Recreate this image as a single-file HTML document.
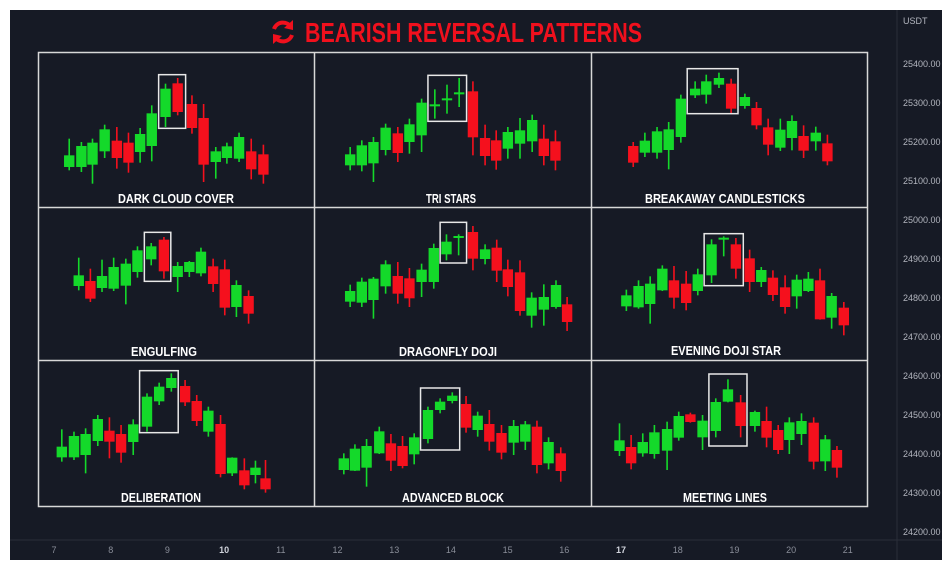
<!DOCTYPE html>
<html><head><meta charset="utf-8"><style>
html,body{margin:0;padding:0;background:#fff;}
svg{display:block}
</style></head><body>
<svg id="s" width="952" height="570" xmlns="http://www.w3.org/2000/svg" font-family="Liberation Sans, sans-serif">
<rect x="0" y="0" width="952" height="570" fill="#ffffff"/>
<rect x="10" y="10" width="932" height="550" fill="#161a25"/>
<line x1="897" y1="10" x2="897" y2="560" stroke="#2a2e39" stroke-width="1"/>
<line x1="10" y1="540" x2="942" y2="540" stroke="#2a2e39" stroke-width="1"/>
<text x="903" y="24" fill="#b2b5be" font-size="9">USDT</text>
<g id="g"></g>
<!-- title -->
<g transform="translate(283,32)" fill="none" stroke="#f0101d" stroke-width="4">
<path d="M-9,-3 A9.5,9.5 0 0 1 8,-5"/>
<path d="M9,3 A9.5,9.5 0 0 1 -8,5"/>
<polygon points="10,-12 10,-2 1,-4" fill="#f0101d" stroke="none"/>
<polygon points="-10,12 -10,2 -1,4" fill="#f0101d" stroke="none"/>
</g>
<text x="305" y="42" fill="#f0101d" font-size="28" font-weight="bold" textLength="337" lengthAdjust="spacingAndGlyphs">BEARISH REVERSAL PATTERNS</text>
<rect x="38.5" y="52.5" width="829" height="454" fill="none" stroke="#d8d8d8" stroke-width="1.5"/>
<line x1="314.5" y1="52" x2="314.5" y2="507" stroke="#d8d8d8" stroke-width="1.5"/>
<line x1="591.5" y1="52" x2="591.5" y2="507" stroke="#d8d8d8" stroke-width="1.5"/>
<line x1="38" y1="207.5" x2="868" y2="207.5" stroke="#d8d8d8" stroke-width="1.5"/>
<line x1="38" y1="360.5" x2="868" y2="360.5" stroke="#d8d8d8" stroke-width="1.5"/>
</svg>
<script>
var G=document.getElementById('g');var NS='http://www.w3.org/2000/svg';
function el(t,a,txt){var e=document.createElementNS(NS,t);for(var k in a)e.setAttribute(k,a[k]);if(txt)e.textContent=txt;G.appendChild(e);return e;}
var GR='#14d92a',RD='#f5101d';
// price labels
var prices=['25400.00','25300.00','25200.00','25100.00','25000.00','24900.00','24800.00','24700.00','24600.00','24500.00','24400.00','24300.00','24200.00'];
for(var i=0;i<prices.length;i++){el('text',{x:903,y:67+i*39,fill:'#b2b5be','font-size':9},prices[i]);}
for(var d=7;d<=21;d++){var x=54+(d-7)*56.7;el('text',{x:x,y:553,fill:(d==10||d==17)?'#d1d4dc':'#8a8e99','font-size':9,'text-anchor':'middle','font-weight':(d==10||d==17)?'bold':'normal'},''+d);}
var rows=[
{oy:52,c:[
[59,'G',260,310,345,355],[82,'G',270,282,345,360],[103,'G',260,272,338,395],[126,'G',218,232,298,318],[149,'R',225,266,318,350],[171,'R',242,272,332,362],[193,'G',228,246,300,332],[215,'G',160,184,282,328],[241,'G',95,110,195,225],[264,'R',78,94,180,190],[291,'R',130,156,228,245],[313,'R',156,198,338,390],[336,'G',285,298,330,380],[357,'G',272,283,318,335],[380,'G',242,255,320,330],[403,'R',260,298,352,382],[426,'R',278,307,368,395],
[590,'G',285,307,340,355],[612,'G',265,280,340,358],[634,'G',255,270,334,390],[657,'G',215,227,294,310],[680,'R',225,244,303,330],[702,'G',200,217,270,305],[725,'G',140,152,250,300],[750,'G',112,157,163,200],[773,'G',98,139,145,185],[796,'G',78,121,127,165],[822,'R',88,118,256,310],[845,'R',218,258,312,340],[866,'R',235,265,326,353],[888,'G',225,240,290,320],[911,'G',198,235,275,320],[934,'G',188,204,268,300],[956,'R',218,260,312,340],[978,'R',235,268,326,355],
[1125,'R',270,282,332,345],[1147,'G',242,266,302,315],[1170,'G',225,238,302,320],[1192,'G',210,232,294,352],[1215,'G',128,140,255,272],[1242,'G',88,110,130,138],[1263,'G',68,88,128,155],[1287,'G',62,78,98,108],[1310,'R',80,95,170,185],[1336,'G',125,135,162,170],[1358,'R',150,168,220,232],[1380,'R',200,226,278,310],[1403,'G',200,233,287,297],[1425,'G',190,207,258,295],[1447,'R',220,252,296,318],[1470,'G',224,242,268,296],[1492,'R',248,274,328,340]
],boxes:[[228,279,68,229],[737,810,70,208],[1227,1323,50,185]],
labels:[[176,198,'DARK CLOUD COVER',116],[451,198,'TRI STARS',50],[725,198,'BREAKAWAY CANDLESTICKS',160]]},
{oy:207,c:[
[77,'G',152,205,237,250],[99,'R',185,222,275,285],[121,'G',158,207,243,255],[143,'G',152,180,245,252],[166,'G',155,170,236,292],[188,'G',118,130,195,212],[214,'G',108,118,157,175],[238,'R',90,98,193,215],[264,'G',165,177,210,255],[286,'G',162,165,195,210],[308,'G',122,134,199,208],[331,'R',155,178,231,255],[353,'R',158,187,302,325],[375,'G',220,234,300,330],[398,'R',250,267,320,350],
[590,'G',233,252,284,300],[612,'G',212,224,287,300],[634,'G',210,215,279,335],[657,'G',160,172,238,260],[680,'R',165,207,260,290],[702,'R',183,214,274,300],[725,'G',170,188,225,270],[748,'G',110,123,225,245],[772,'G',82,104,142,160],[795,'G',82,87,92,145],[822,'R',57,75,155,190],[845,'G',112,127,156,172],[867,'R',98,122,191,225],[888,'R',158,187,240,268],[911,'R',160,196,312,326],[933,'G',256,272,326,362],[956,'G',232,270,308,356],[979,'G',220,234,300,305],[1000,'R',270,292,345,372],
[1112,'G',248,265,298,312],[1135,'G',220,237,301,305],[1157,'G',208,230,291,350],[1180,'G',175,185,250,252],[1202,'R',177,220,272,305],[1225,'R',192,230,288,310],[1247,'G',185,202,252,265],[1273,'G',97,112,205,228],[1296,'G',88,92,98,148],[1319,'R',93,112,185,215],[1345,'R',128,154,225,255],[1367,'G',180,189,225,240],[1389,'R',190,212,264,282],[1412,'R',205,241,300,320],[1434,'G',203,218,268,305],[1456,'G',195,215,252,255],[1478,'R',185,220,337,338],[1500,'G',258,267,332,365],[1523,'R',285,302,355,385]
],boxes:[[201,251,76,223],[760,810,46,168],[1259,1333,80,236]],
labels:[[164,351,'ENGULFING',66],[448,351,'DRAGONFLY DOJI',98],[726,350,'EVENING DOJI STAR',110]]},
{oy:360,c:[
[45,'G',208,260,292,305],[68,'G',215,228,292,300],[90,'G',205,222,285,340],[113,'G',165,177,243,258],[135,'R',172,212,245,295],[157,'R',195,222,278,308],[180,'G',178,193,246,285],[206,'G',100,110,200,215],[229,'G',68,80,124,135],[252,'G',40,54,84,95],[278,'R',60,78,127,138],[300,'R',105,123,183,198],[322,'G',140,152,215,230],[345,'R',165,192,342,352],[367,'G',292,293,340,348],[390,'R',295,331,376,388],[411,'G',302,323,345,370],[430,'R',300,355,388,398],
[578,'G',280,295,330,343],[599,'G',253,266,332,333],[621,'G',237,258,323,380],[645,'G',200,214,280,282],[667,'R',222,250,302,333],[689,'R',228,258,318,325],[711,'G',220,232,283,313],[737,'G',140,150,237,250],[760,'G',115,125,150,160],[783,'G',97,107,123,130],[809,'R',108,132,203,218],[831,'G',155,167,210,230],[853,'R',150,192,245,272],[876,'R',195,219,278,298],[899,'G',180,198,248,285],[921,'G',183,193,245,270],[943,'R',182,200,315,340],[965,'G',232,246,310,328],[988,'R',262,280,333,365],
[1099,'G',190,241,273,288],[1121,'R',225,261,310,328],[1143,'G',220,246,280,290],[1165,'G',195,217,282,296],[1189,'G',185,207,272,330],[1211,'G',155,168,233,242],[1233,'R',158,163,186,188],[1256,'G',165,182,232,270],[1281,'G',115,126,213,232],[1304,'G',58,88,125,127],[1328,'R',105,127,198,232],[1355,'G',152,156,198,215],[1377,'R',140,183,233,262],[1399,'R',195,210,270,282],[1420,'G',172,187,240,282],[1443,'G',160,183,222,255],[1466,'R',172,188,305,328],[1488,'G',225,238,304,333],[1510,'R',258,270,323,353]
],boxes:[[192,265,32,218],[723,797,84,270],[1268,1340,42,258]],
labels:[[161,497,'DELIBERATION',80],[453,497,'ADVANCED BLOCK',102],[725,497,'MEETING LINES',84]]}
];
var SX=1.89,SY=3;
rows.forEach(function(r){
 r.c.forEach(function(c){
  var x=38+c[0]/SX,col=c[1]=='G'?GR:RD;
  var wt=r.oy+c[2]/SY,bt=r.oy+c[3]/SY,bb=r.oy+c[4]/SY,wb=r.oy+c[5]/SY;
  el('rect',{x:x-0.8,y:wt,width:1.6,height:wb-wt,fill:col});
  var h=Math.max(bb-bt,2);
  el('rect',{x:x-5.2,y:bt,width:10.4,height:h,fill:col});
 });
 r.boxes.forEach(function(b){
  var x1=38+b[0]/SX,x2=38+b[1]/SX,y1=r.oy+b[2]/SY,y2=r.oy+b[3]/SY;
  el('rect',{x:x1,y:y1,width:x2-x1,height:y2-y1,fill:'none',stroke:'#e8e8e8','stroke-width':1.5});
 });
 r.labels.forEach(function(l){
  el('text',{x:l[0]-l[3]/2,y:l[1]+5,fill:'#ffffff','font-size':13,'font-weight':'bold',textLength:l[3],lengthAdjust:'spacingAndGlyphs'},l[2]);
 });
});
</script>
</body></html>
